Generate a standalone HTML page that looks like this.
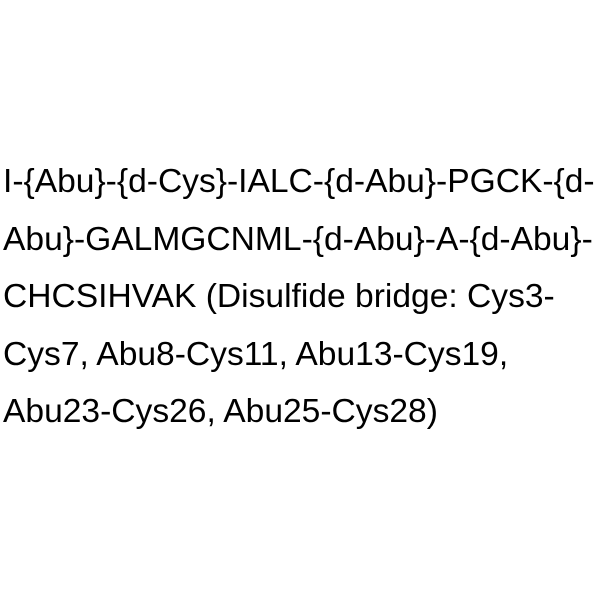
<!DOCTYPE html>
<html><head><style>
body{margin:0;width:600px;height:600px;background:#fff;position:relative;overflow:hidden}
.t{position:absolute;left:3px;top:153px;font-family:"Liberation Sans",Arial,sans-serif;font-size:33.6px;line-height:57.5px;color:#000;white-space:pre}
</style></head><body>
<div class="t">I-{Abu}-{d-Cys}-IALC-{d-Abu}-PGCK-{d-
Abu}-GALMGCNML-{d-Abu}-A-{d-Abu}-
CHCSIHVAK (Disulfide bridge: Cys3-
Cys7, Abu8-Cys11, Abu13-Cys19,
Abu23-Cys26, Abu25-Cys28)</div>
</body></html>
